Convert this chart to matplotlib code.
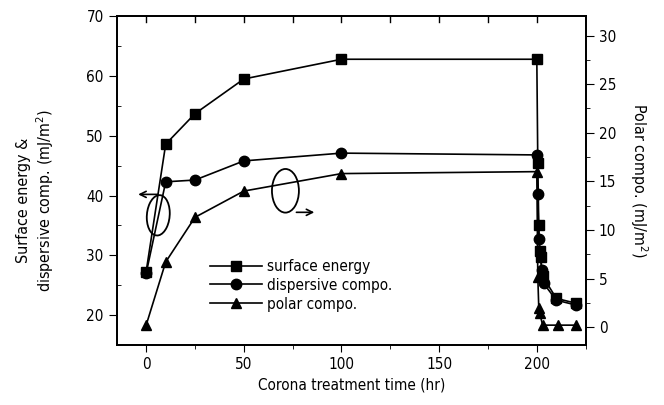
import matplotlib.pyplot as plt
import numpy as np
from matplotlib.patches import Ellipse
from matplotlib.ticker import MultipleLocator

plt.rcParams['font.family'] = ['DejaVu Sans']
plt.rcParams['font.stretch'] = 'condensed'
plt.rcParams['font.size'] = 11

# surface energy, hr -> mJ/m2 (left axis)
t_se = [0, 10, 25, 50, 100, 200, 200.5, 201, 201.5, 202, 203, 210, 220]
se = [27.3, 48.6, 53.7, 59.5, 62.8, 62.8, 45.5, 35.0, 30.8, 29.7, 26.5, 22.8, 22.0]

# dispersive component (left axis)
t_dc = [0, 10, 25, 50, 100, 200, 200.5, 201, 202.5, 203.5, 210, 220]
dc = [27.0, 42.3, 42.6, 45.8, 47.1, 46.8, 40.3, 32.8, 27.5, 25.3, 22.5, 21.7]

# polar component (right axis)
t_pc = [0, 10, 25, 50, 100, 200, 200.5, 201, 201.5, 203, 211, 220]
pc = [0.2, 6.7, 11.3, 14.0, 15.8, 16.0, 5.2, 2.0, 1.4, 0.2, 0.2, 0.2]

fig = plt.figure(figsize=(6.64, 4.05), dpi=100)
ax = fig.add_axes([0.176, 0.148, 0.706, 0.812])
ax2 = ax.twinx()

kw = dict(color='black', lw=1.2, ms=7.5)
l1, = ax.plot(t_se, se, marker='s', label='surface energy', **kw)
l2, = ax.plot(t_dc, dc, marker='o', label='dispersive compo.', **kw)
l3, = ax2.plot(t_pc, pc, marker='^', label='polar compo.', **kw)

ax.set_xlim(-15, 225)
ax.set_ylim(15, 70)
ax2.set_ylim(-1.85, 32)

ax.xaxis.set_major_locator(MultipleLocator(50))
ax.xaxis.set_minor_locator(MultipleLocator(25))
ax.yaxis.set_major_locator(MultipleLocator(10))
ax.yaxis.set_minor_locator(MultipleLocator(5))
ax2.yaxis.set_major_locator(MultipleLocator(5))
ax2.yaxis.set_minor_locator(MultipleLocator(2.5))

ax.tick_params(axis='x', which='both', direction='out', top=False)
ax.tick_params(axis='x', which='major', length=5)
ax.tick_params(axis='x', which='minor', length=3)
ax.tick_params(axis='y', which='major', direction='out', length=6)
ax.tick_params(axis='y', which='minor', direction='in', length=3)
ax2.tick_params(axis='y', which='major', direction='out', length=6)
ax2.tick_params(axis='y', which='minor', direction='out', length=3)

# inward ticks along the top edge every 25 hr
for x in np.arange(0, 201, 25):
    ax.plot([x, x], [70, 69], color='black', lw=1, clip_on=False)

for a in (ax, ax2):
    for s in a.spines.values():
        s.set_linewidth(1.3)

ax.set_xlabel('Corona treatment time (hr)', labelpad=4)
ax.set_ylabel('Surface energy &\ndispersive comp. (mJ/m$^2$)', labelpad=22,
              fontsize=11.5)
ax.yaxis.label.set_y(0.44)
ax2.set_ylabel('Polar compo. (mJ/m$^2$)', rotation=270, labelpad=24,
               fontsize=11.5)

# ellipses and arrows pointing at the matching axis
ax.add_patch(Ellipse((6.2, 36.7), 11.8, 6.7, angle=5, fill=False, lw=1.3))
ax.annotate('', xy=(-5.5, 40.2), xytext=(7.5, 40.2),
            arrowprops=dict(arrowstyle='->', lw=1.2, color='black'))
ax.add_patch(Ellipse((71.3, 40.8), 13.8, 7.3, fill=False, lw=1.3))
ax.annotate('', xy=(87.5, 37.2), xytext=(75.5, 37.2),
            arrowprops=dict(arrowstyle='->', lw=1.2, color='black'))

ax.legend(handles=[l1, l2, l3], loc='upper left', bbox_to_anchor=(0.198, 0.262),
          frameon=False, handlelength=3.4, handletextpad=0.35,
          labelspacing=0.25, borderpad=0, borderaxespad=0)

fig.savefig('out.png', dpi=100)
